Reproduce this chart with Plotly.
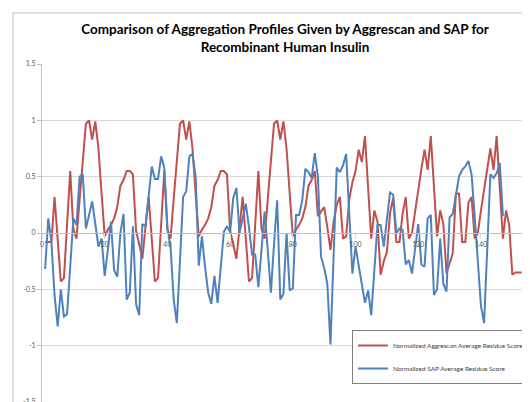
import plotly.graph_objects as go

title_text = "Comparison of Aggregation Profiles Given by Aggrescan and SAP for<br>Recombinant Human Insulin"
aggrescan_name = "Normalized Aggrescan Average Residue Score"
sap_name = "Normalized SAP Average Residue Score"

aggrescan_values = [
    -0.08, -0.08, -0.08, 0.32, -0.05, -0.43, -0.40, 0.07, 0.55, 0.04,
    -0.05, 0.30, 0.63, 0.97, 1.00, 0.83, 0.99, 0.75, 0.35, -0.03,
    0.03, 0.07, 0.13, 0.23, 0.42, 0.47, 0.55, 0.55, 0.52, 0.02,
    -0.10, -0.23, 0.05, 0.32, -0.05, -0.43, -0.40, 0.07, 0.55, 0.04,
    -0.05, 0.30, 0.63, 0.97, 1.00, 0.83, 0.99, 0.75, 0.35, -0.03,
    0.03, 0.07, 0.13, 0.23, 0.42, 0.47, 0.55, 0.55, 0.52, 0.02,
    -0.10, -0.23, 0.05, 0.32, -0.05, -0.43, -0.40, 0.07, 0.55, 0.04,
    -0.05, 0.30, 0.63, 0.97, 1.00, 0.83, 0.99, 0.75, 0.35, -0.03,
    0.03, 0.07, 0.13, 0.23, 0.42, 0.47, 0.55, 0.15, 0.19, 0.23,
    0.05, -0.15, 0.10, 0.25, 0.32, -0.05, -0.03, 0.30, 0.45, 0.55,
    0.74, 0.63, 0.86, 0.35, -0.05, 0.20, 0.10, -0.37, -0.25, -0.17,
    0.18, 0.31, -0.08, -0.08, 0.17, 0.32, -0.05, 0.00, 0.20, 0.37,
    0.57, 0.74, 0.56, 0.86, 0.40, -0.03, 0.20, 0.08, -0.36, -0.27,
    -0.18, 0.35, 0.35, -0.08, -0.08, 0.27, 0.32, -0.05, 0.00, 0.20,
    0.37, 0.55, 0.75, 0.56, 0.86, 0.40, -0.05, 0.20, 0.07, -0.37,
    -0.35, -0.35, -0.35,
]

sap_values = [
    -0.32, 0.13, -0.08, -0.55, -0.83, -0.50, -0.74, -0.72, -0.30, 0.13,
    0.07, 0.50, 0.52, 0.04, 0.16, 0.28, 0.08, -0.12, -0.05, -0.38,
    -0.15, 0.10, -0.33, -0.39, 0.00, 0.17, -0.59, -0.53, 0.06, -0.63,
    -0.73, 0.08, 0.06, 0.32, 0.59, 0.48, 0.48, 0.68, 0.58, 0.03,
    -0.12, -0.59, -0.80, -0.25, 0.32, 0.37, 0.68, 0.70, 0.50, -0.29,
    -0.03, -0.30, -0.53, -0.63, -0.38, -0.62, -0.30, 0.01, 0.06, 0.01,
    0.31, 0.40, 0.00, 0.12, 0.26, 0.05, -0.19, -0.19, -0.48, -0.15,
    0.19, -0.15, -0.53, -0.10, 0.29, -0.59, -0.54, 0.00, -0.51, -0.49,
    0.16, 0.16, 0.29, 0.57, 0.54, 0.49, 0.71, 0.50, -0.21, -0.31,
    -0.45, -0.99, -0.20, 0.58, 0.54, 0.60, 0.70, 0.15, -0.36, -0.12,
    -0.29, -0.45, -0.62, -0.51, -0.73, -0.33, 0.07, 0.07, -0.12, 0.12,
    0.36, 0.34, 0.00, 0.04, 0.03, -0.28, -0.24, -0.36, -0.12, 0.08,
    -0.28, -0.30, 0.13, 0.16, -0.55, -0.50, -0.05, -0.45, -0.52, 0.14,
    0.17, 0.35, 0.50, 0.56, 0.59, 0.64, 0.52, 0.15, -0.27, -0.65,
    -0.80, -0.15, 0.52, 0.49, 0.53, 0.62, 0.15,
]

x_tick_values = [0, 20, 40, 60, 80, 100, 120, 140]
y_tick_values = [-1.5, -1, -0.5, 0, 0.5, 1, 1.5]
y_tick_labels = ["-1.5", "-1", "-0.5", "0", "0.5", "1", "1.5"]

aggrescan_x = list(range(1, len(aggrescan_values) + 1))
sap_x = list(range(1, len(sap_values) + 1))

# page body has an 8px margin; figure coordinates are offset accordingly
L, T, PW, PH = 34, 56, 486, 338

fig = go.Figure()
fig.add_trace(go.Scatter(
    x=aggrescan_x, y=aggrescan_values, mode="lines", name=aggrescan_name,
    line=dict(color="#C0504D", width=2), legendgroup="a",
))
fig.add_trace(go.Scatter(
    x=sap_x, y=sap_values, mode="lines", name=sap_name,
    line=dict(color="#4F81BD", width=2), legendgroup="b",
))

fig.update_layout(
    width=530, height=402,
    margin=dict(l=L, r=530 - L - PW, t=T, b=402 - T - PH, autoexpand=False),
    paper_bgcolor="white", plot_bgcolor="white",
    font=dict(family="Lato, Open Sans, sans-serif", color="#595959"),
    title=dict(
        text="<b>" + title_text + "</b>",
        x=0.5, xref="paper", xanchor="center",
        y=1 - 26 / 402, yanchor="middle",
        font=dict(family="Lato, Open Sans, sans-serif", size=13.5, color="#000000"),
    ),
    xaxis=dict(
        range=[0, 155], tickvals=x_tick_values,
        showgrid=False, zeroline=False,
        showline=True, linecolor="#bfbfbf", linewidth=1,
        anchor="free", position=0.5,
        ticks="outside", ticklen=5, tickcolor="#d9d9d9",
        tickfont=dict(size=7, color="#595959"),
    ),
    yaxis=dict(
        range=[-1.5, 1.5], tickvals=y_tick_values, ticktext=y_tick_labels,
        showgrid=True, gridcolor="#d9d9d9", gridwidth=1,
        zeroline=False,
        showline=True, linecolor="#bfbfbf", linewidth=1,
        ticks="outside", ticklen=4, tickcolor="#bfbfbf",
        tickfont=dict(size=7, color="#595959"),
    ),
    legend=dict(
        x=(352 - 8 - L) / PW, y=(394 - 322) / PH,
        xanchor="left", yanchor="top",
        bgcolor="white", bordercolor="#7f7f7f", borderwidth=1,
        font=dict(size=6.5, color="#404040"),
        tracegroupgap=4, itemwidth=30,
    ),
    showlegend=True,
    shapes=[dict(
        type="rect", xref="paper", yref="paper",
        x0=(5 - L) / PW, x1=1.2,
        y0=-0.3, y1=1 + (T - 5) / PH,
        line=dict(color="#bfbfbf", width=1), fillcolor="rgba(0,0,0,0)",
        layer="below",
    )],
)

fig.write_html("out.html")
